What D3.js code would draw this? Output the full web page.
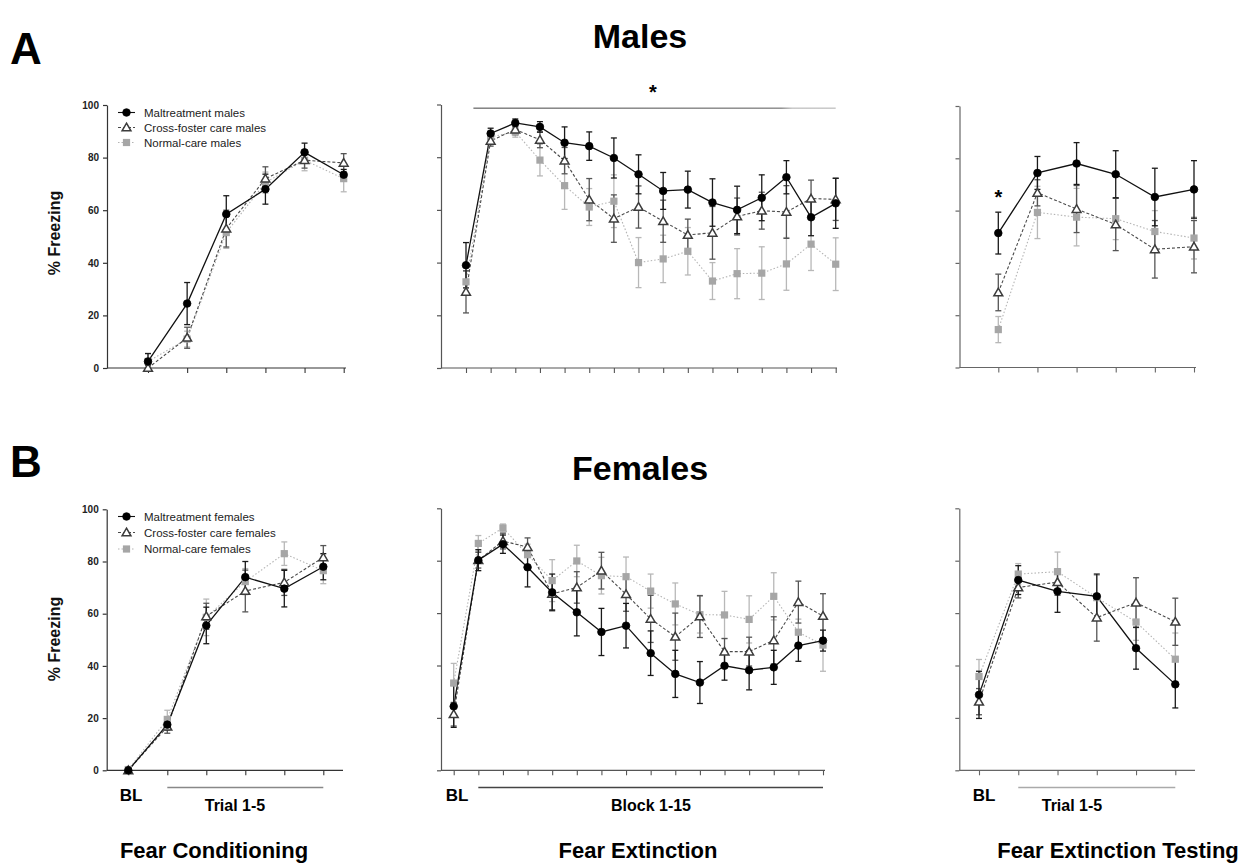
<!DOCTYPE html>
<html>
<head>
<meta charset="utf-8">
<script src="https://cdn.jsdelivr.net/npm/d3@7/dist/d3.min.js"></script>
<style>
  html, body { margin: 0; padding: 0; background: #fff; }
  svg { display: block; font-family: "Liberation Sans", Arial, sans-serif; }
</style>
</head>
<body>
<svg id="chart" width="1244" height="867"></svg>
<script>
// ---------------- DATA ----------------
const yTicks = [0, 20, 40, 60, 80, 100];
const seriesNamesMales = ["Maltreatment males", "Cross-foster care males", "Normal-care males"];
const seriesNamesFemales = ["Maltreatment females", "Cross-foster care females", "Normal-care females"];
const rowTitles = ["Males", "Females"];
const panelLetters = ["A", "B"];
const phaseTitles = ["Fear Conditioning", "Fear Extinction", "Fear Extinction Testing"];
const groupLabelsCond = ["BL", "Trial 1-5"];
const groupLabelsExt = ["BL", "Block 1-15"];
const groupLabelsTest = ["BL", "Trial 1-5"];

// Males – Fear Conditioning (BL, Trial 1-5)
const mCondMal = [2.5, 24.5, 58.5, 68, 82, 73.5];
const mCondMalErr = [3, 8, 7, 5.7, 3.5, 2];
const mCondCross = [0, 11.5, 53, 72, 79, 78];
const mCondCrossErr = [1, 4, 7, 4.5, 3, 3.5];
const mCondNorm = [2.5, 11, 51.5, 70.5, 79, 72];
const mCondNormErr = [3, 3, 6, 4, 4, 5];

// Males – Fear Extinction (BL, Block 1-15)
const mExtMal = [39, 89, 93, 91.5, 85.5, 84.2, 79.7, 73.5, 67.2, 67.7, 62.8, 60, 64.6, 72.4, 57.2, 62.5];
const mExtMalErr = [8.6, 2, 1.5, 2, 6, 5.4, 7.6, 7.4, 7, 7, 9, 9, 8.7, 6.3, 7, 9.5];
const mExtCross = [28.9, 86.2, 90.5, 86.6, 78.7, 63.9, 56.7, 61.1, 55.7, 50.5, 51.3, 57.5, 59.7, 59.2, 64.3, 64];
const mExtCrossErr = [8, 2, 2, 3, 5, 8, 9, 8, 8, 6, 10, 7, 7, 10, 7, 8];
const mExtNorm = [32.7, 87.7, 89.6, 78.9, 69.2, 61.1, 63.3, 40, 41.4, 44.3, 33, 35.8, 36, 39.5, 47, 39.4];
const mExtNormErr = [4, 2, 2, 6, 9, 7, 10, 9.5, 9, 9, 7, 9.5, 10, 10, 10, 10];

// Males – Fear Extinction Testing (BL, Trial 1-5)
const mTestMal = [51.4, 74.4, 78, 73.9, 65.2, 68.1];
const mTestMalErr = [8, 6.3, 8, 9, 11, 11];
const mTestCross = [28.7, 66.8, 60.6, 54.7, 45.2, 46.2];
const mTestCrossErr = [7, 5, 9, 10, 11, 10];
const mTestNorm = [14.5, 59.3, 57.5, 56.9, 52, 49.5];
const mTestNormErr = [5, 10, 11, 8, 8, 8];

// Females – Fear Conditioning
const fCondMal = [0, 17.5, 55.5, 74, 69.6, 78];
const fCondMalErr = [0.5, 2, 7, 6, 7, 5];
const fCondCross = [0, 16.7, 59, 68.7, 72, 81.6];
const fCondCrossErr = [0.5, 2.5, 5, 8, 5, 4.5];
const fCondNorm = [0.3, 19.5, 58.6, 72.3, 83, 76.5];
const fCondNormErr = [0.5, 3.5, 7, 5, 4.5, 5];

// Females – Fear Extinction
const fExtMal = [24.4, 80.2, 86.3, 77.5, 67.9, 60.3, 52.8, 55.2, 44.7, 36.8, 33.5, 39.9, 38.2, 39.3, 47.6, 49.5];
const fExtMalErr = [8, 4, 3.5, 7.5, 7, 9, 9, 8.5, 8.5, 9, 8, 5.5, 7.5, 6.5, 6, 4];
const fExtCross = [21.4, 80.2, 87.5, 85.2, 67.3, 69.8, 76.2, 67.2, 57.8, 51, 58.7, 45.3, 45.3, 49.6, 64.2, 58.9];
const fExtCrossErr = [4.5, 3, 3, 3.5, 6, 6, 7, 6.5, 9, 9, 8, 5, 5.5, 9, 8, 8.5];
const fExtNorm = [33.3, 86.6, 92.5, 82.3, 72.4, 79.9, 74.3, 73.9, 68.4, 63.5, 59.4, 59.3, 57.6, 66.4, 52.7, 47.8];
const fExtNormErr = [7.5, 3, 1.5, 4, 8, 6, 7, 7.5, 6.5, 8, 7, 9, 9, 9, 5, 10];

// Females – Fear Extinction Testing
const fTestMal = [28.8, 72.6, 68.3, 66.4, 46.6, 32.8];
const fTestMalErr = [9, 5.5, 8, 8.5, 8, 9];
const fTestCross = [26.2, 69.8, 71.8, 58.3, 64, 56.7];
const fTestCrossErr = [5, 4, 5, 9, 9.5, 9];
const fTestNorm = [35.8, 74.9, 75.8, 65.9, 56.6, 42.4];
const fTestNormErr = [6.5, 4, 7.5, 8.5, 7, 10];

// ---------------- STYLE ----------------
const styles = [
  { key: "mal",   line: "#111", dash: null,  err: "#1a1a1a", shape: "circle" },
  { key: "cross", line: "#4a4a4a", dash: "3,2", err: "#555", shape: "triangle" },
  { key: "norm",  line: "#b4b4b4", dash: "1.5,2", err: "#b8b8b8", shape: "square" }
];

const svg = d3.select("#chart");

function makeSeries(vals) {
  return [
    { style: styles[0], v: vals[0], e: vals[1] },
    { style: styles[1], v: vals[2], e: vals[3] },
    { style: styles[2], v: vals[4], e: vals[5] }
  ];
}

function drawMarker(g, shape, x, y) {
  if (shape === "circle") {
    g.append("circle").attr("cx", x).attr("cy", y).attr("r", 3.8)
      .attr("fill", "#000").attr("stroke", "#000").attr("stroke-width", 0.8);
  } else if (shape === "triangle") {
    const sym = d3.symbol().type(d3.symbolTriangle).size(34);
    g.append("path").attr("d", sym()).attr("transform", `translate(${x},${y + 0.8})`)
      .attr("fill", "#fff").attr("stroke", "#3c3c3c").attr("stroke-width", 1.5);
  } else {
    g.append("rect").attr("x", x - 3.6).attr("y", y - 3.6).attr("width", 7.2).attr("height", 7.2)
      .attr("fill", "#a6a6a6");
  }
}

function drawPanel(cfg, series) {
  const n = series[0].v.length;
  const x = d3.scaleLinear().domain([0, n - 1]).range([cfg.first, cfg.last]);
  const y = d3.scaleLinear().domain([0, 100]).range([cfg.y0, cfg.y100]);
  const g = svg.append("g");

  // y axis
  const ya = g.append("g").attr("transform", `translate(${cfg.ax},0)`)
    .call(d3.axisLeft(y).tickValues(yTicks).tickSize(4).tickSizeOuter(0)
      .tickFormat(cfg.labels ? d3.format("d") : () => ""));
  ya.selectAll("path, line").attr("stroke", cfg.axisColor).attr("stroke-width", 1.2);
  ya.selectAll("text").attr("font-size", 10).attr("font-weight", "bold").attr("fill", "#222")
    .attr("font-family", "Liberation Sans, Arial, sans-serif").attr("dx", -1);

  // x axis
  const xa = g.append("g").attr("transform", `translate(0,${cfg.y0})`)
    .call(d3.axisBottom(x).tickValues(d3.range(n)).tickSize(5).tickFormat(() => ""));
  xa.select(".domain").remove();
  xa.selectAll("line").attr("stroke", cfg.axisColor).attr("stroke-width", 1.1);
  g.append("line").attr("x1", cfg.ax).attr("x2", cfg.end).attr("y1", cfg.y0).attr("y2", cfg.y0)
    .attr("stroke", cfg.axisColor).attr("stroke-width", 1.2);

  const order = [2, 1, 0];
  // lines
  order.forEach(si => {
    const s = series[si];
    const line = d3.line().x((d, i) => x(i)).y(d => y(d));
    g.append("path").datum(s.v).attr("d", line).attr("fill", "none")
      .attr("stroke", s.style.line).attr("stroke-width", si === 0 ? 1.3 : 1.1)
      .attr("stroke-dasharray", s.style.dash);
  });
  // error bars
  order.forEach(si => {
    const s = series[si];
    s.v.forEach((v, i) => {
      const xi = x(i), e = s.e[i];
      const eg = g.append("g").attr("stroke", s.style.err).attr("stroke-width", 1.3);
      eg.append("line").attr("x1", xi).attr("x2", xi).attr("y1", y(v - e)).attr("y2", y(v + e));
      eg.append("line").attr("x1", xi - 3).attr("x2", xi + 3).attr("y1", y(v - e)).attr("y2", y(v - e));
      eg.append("line").attr("x1", xi - 3).attr("x2", xi + 3).attr("y1", y(v + e)).attr("y2", y(v + e));
    });
  });
  // markers
  order.forEach(si => {
    const s = series[si];
    s.v.forEach((v, i) => drawMarker(g, s.style.shape, x(i), y(v)));
  });

  return { x, y, g };
}

function drawLegend(x0, yRows, names) {
  const g = svg.append("g");
  names.forEach((name, i) => {
    const st = styles[i];
    const yy = yRows[i];
    g.append("line").attr("x1", x0).attr("x2", x0 + 17).attr("y1", yy).attr("y2", yy)
      .attr("stroke", st.line).attr("stroke-width", 1.1).attr("stroke-dasharray", st.dash);
    drawMarker(g, st.shape, x0 + 8.5, yy);
    g.append("text").attr("x", x0 + 26).attr("y", yy + 4).attr("font-size", 11.5)
      .attr("fill", "#222").text(name);
  });
}

function ylabel(xc, yc) {
  svg.append("text").attr("transform", `translate(${xc},${yc}) rotate(-90)`)
    .attr("text-anchor", "middle").attr("font-size", 16).attr("font-weight", "bold")
    .attr("fill", "#111").text("% Freezing");
}

// ---------------- LAYOUT ----------------
const topRow = [
  { ax: 107, y0: 368, y100: 105, first: 148, last: 343.7, end: 346, labels: true, axisColor: "#333" },
  { ax: 441, y0: 368, y100: 104.5, first: 466, last: 835.7, end: 837, labels: false, axisColor: "#555" },
  { ax: 959.5, y0: 367.5, y100: 106, first: 998.3, last: 1194, end: 1196, labels: false, axisColor: "#666" }
];
const botRow = [
  { ax: 106.7, y0: 770.3, y100: 509.3, first: 128.3, last: 323.3, end: 343, labels: true, axisColor: "#333" },
  { ax: 441, y0: 770.3, y100: 508.3, first: 453.7, last: 823, end: 825, labels: false, axisColor: "#555" },
  { ax: 959.3, y0: 770.3, y100: 508.3, first: 979, last: 1175.3, end: 1195, labels: false, axisColor: "#666" }
];

// Males
const pTL = drawPanel(topRow[0], makeSeries([mCondMal, mCondMalErr, mCondCross, mCondCrossErr, mCondNorm, mCondNormErr]));
const pTM = drawPanel(topRow[1], makeSeries([mExtMal, mExtMalErr, mExtCross, mExtCrossErr, mExtNorm, mExtNormErr]));
const pTR = drawPanel(topRow[2], makeSeries([mTestMal, mTestMalErr, mTestCross, mTestCrossErr, mTestNorm, mTestNormErr]));
// Females
const pBL = drawPanel(botRow[0], makeSeries([fCondMal, fCondMalErr, fCondCross, fCondCrossErr, fCondNorm, fCondNormErr]));
const pBM = drawPanel(botRow[1], makeSeries([fExtMal, fExtMalErr, fExtCross, fExtCrossErr, fExtNorm, fExtNormErr]));
const pBR = drawPanel(botRow[2], makeSeries([fTestMal, fTestMalErr, fTestCross, fTestCrossErr, fTestNorm, fTestNormErr]));

drawLegend(118, [112.5, 127.5, 142.5], seriesNamesMales);
drawLegend(118, [516.5, 532.5, 549], seriesNamesFemales);

ylabel(60, 233);
ylabel(60, 639);

// significance bar in males extinction
const sigGrad = svg.append("defs").append("linearGradient").attr("id", "sigGrad");
sigGrad.append("stop").attr("offset", "0%").attr("stop-color", "#777");
sigGrad.append("stop").attr("offset", "85%").attr("stop-color", "#888");
sigGrad.append("stop").attr("offset", "88%").attr("stop-color", "#c4c4c4");
sigGrad.append("stop").attr("offset", "100%").attr("stop-color", "#c4c4c4");
svg.append("rect").attr("x", pTM.x(0.3)).attr("y", 107.5).attr("width", pTM.x(15) - pTM.x(0.3)).attr("height", 1.4)
  .attr("fill", "url(#sigGrad)");
svg.append("text").attr("x", 653).attr("y", 99).attr("text-anchor", "middle")
  .attr("font-size", 20).attr("font-weight", "bold").text("*");
svg.append("text").attr("x", pTR.x(0)).attr("y", 204).attr("text-anchor", "middle")
  .attr("font-size", 20).attr("font-weight", "bold").text("*");

// Titles
svg.append("text").attr("x", 640).attr("y", 48).attr("text-anchor", "middle")
  .attr("font-size", 34).attr("font-weight", "bold").text(rowTitles[0]);
svg.append("text").attr("x", 640).attr("y", 480).attr("text-anchor", "middle")
  .attr("font-size", 34).attr("font-weight", "bold").text(rowTitles[1]);
svg.append("text").attr("x", 10).attr("y", 64).attr("font-size", 44).attr("font-weight", "bold").text(panelLetters[0]);
svg.append("text").attr("x", 10).attr("y", 477).attr("font-size", 44).attr("font-weight", "bold").text(panelLetters[1]);

// Bottom group labels
function groupLabels(panel, labels, lineX1, lineX2, blX, textX, lineColor) {
  svg.append("line").attr("x1", lineX1).attr("x2", lineX2).attr("y1", 787.5).attr("y2", 787.5)
    .attr("stroke", lineColor).attr("stroke-width", 1.3);
  svg.append("text").attr("x", blX).attr("y", 801).attr("text-anchor", "middle")
    .attr("font-size", 17).attr("font-weight", "bold").text(labels[0]);
  svg.append("text").attr("x", textX).attr("y", 811).attr("text-anchor", "middle")
    .attr("font-size", 16).attr("font-weight", "bold").text(labels[1]);
}
groupLabels(pBL, groupLabelsCond, pBL.x(1), pBL.x(5), 131, 235, "#888");
groupLabels(pBM, groupLabelsExt, pBM.x(1), pBM.x(15), 457, 651, "#444");
groupLabels(pBR, groupLabelsTest, pBR.x(1), pBR.x(5), 984, 1072, "#aaa");

// Phase titles
[[214, phaseTitles[0]], [638, phaseTitles[1]], [1118, phaseTitles[2]]].forEach(([cx, t]) => {
  svg.append("text").attr("x", cx).attr("y", 858).attr("text-anchor", "middle")
    .attr("font-size", 22).attr("font-weight", "bold").text(t);
});
</script>
</body>
</html>
